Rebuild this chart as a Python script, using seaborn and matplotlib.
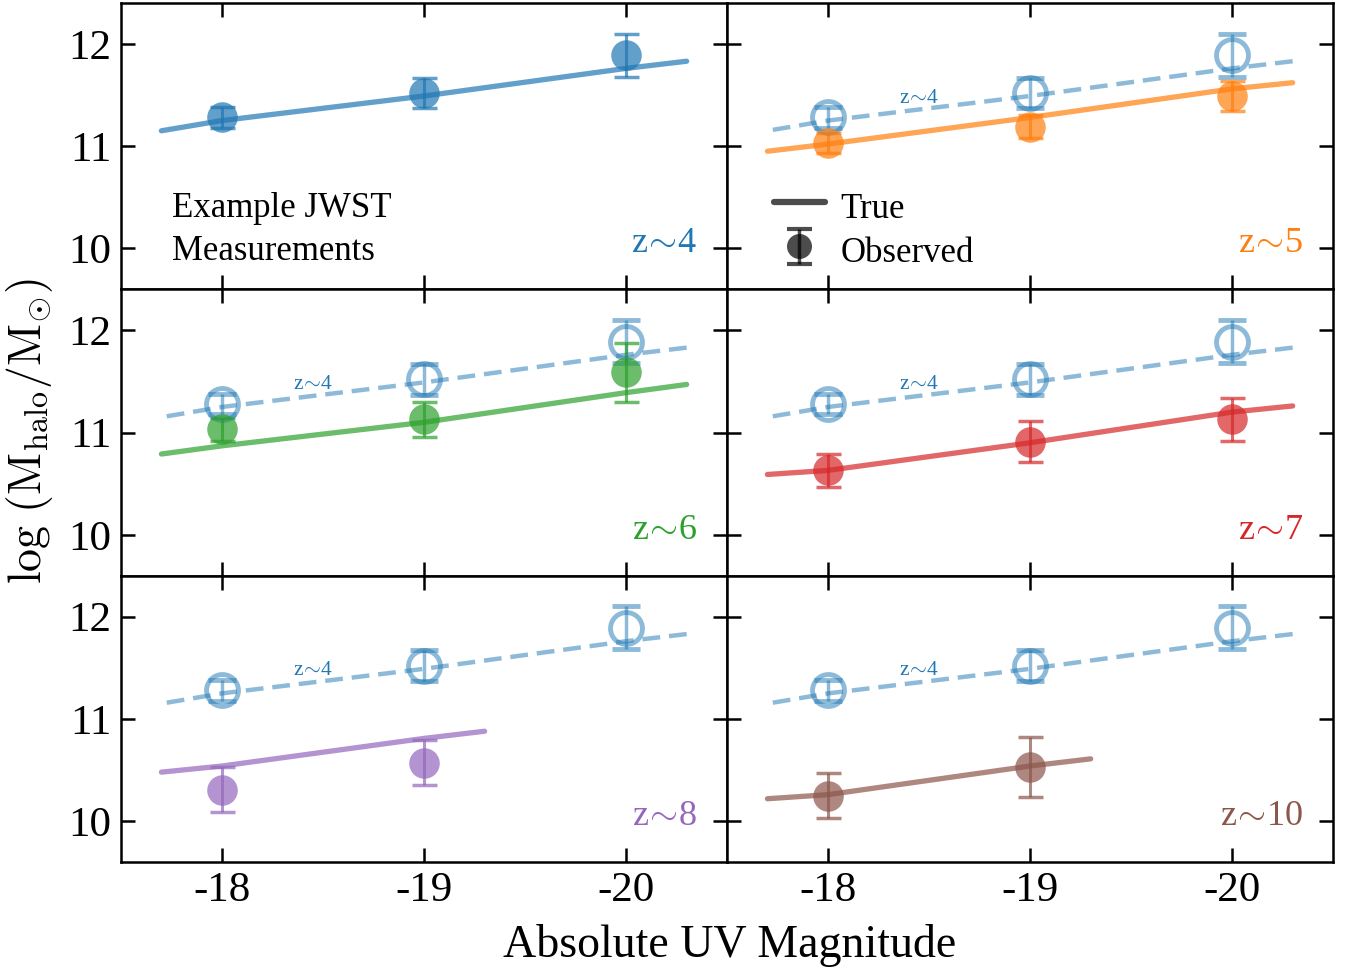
import numpy as np
import pandas as pd
import matplotlib.pyplot as plt
from matplotlib.lines import Line2D
import seaborn as sns

sns.set_style("ticks", {"axes.edgecolor": "black", "xtick.color": "black",
                        "ytick.color": "black", "text.color": "black"})
plt.rcParams["font.family"] = ["Liberation Serif", "DejaVu Serif"]
plt.rcParams["mathtext.fontset"] = "cm"
plt.rcParams["axes.unicode_minus"] = False

# magnitudes where the mock measurements sit
mag_obs = [-18, -19, -20]

# "true" relations
mag_true_long = [-17.7, -18.0, -19.0, -20.0, -20.3]
mag_true_short = [-17.7, -18.0, -19.0, -19.3]
true_z4 = [11.15, 11.25, 11.49, 11.76, 11.83]
true_z5 = [10.95, 11.02, 11.28, 11.56, 11.62]
true_z6 = [10.79, 10.87, 11.10, 11.39, 11.47]
true_z7 = [10.59, 10.63, 10.90, 11.20, 11.26]
true_z8 = [10.48, 10.54, 10.81, 10.88]
true_z10 = [10.22, 10.26, 10.54, 10.61]

# observed points and their errors
obs_z4 = [11.28, 11.52, 11.89]
err_z4 = [0.10, 0.15, 0.21]
obs_z5 = [11.03, 11.19, 11.49]
err_z5 = [0.10, 0.11, 0.15]
obs_z6 = [11.03, 11.13, 11.59]
err_z6 = [0.11, 0.17, 0.29]
obs_z7 = [10.63, 10.91, 11.13]
err_z7 = [0.16, 0.20, 0.21]
obs_z8 = [10.31, 10.57]
err_z8 = [0.22, 0.22]
obs_z10 = [10.25, 10.53]
err_z10 = [0.22, 0.29]

panels = [
    ("4", mag_true_long, true_z4, obs_z4, err_z4),
    ("5", mag_true_long, true_z5, obs_z5, err_z5),
    ("6", mag_true_long, true_z6, obs_z6, err_z6),
    ("7", mag_true_long, true_z7, obs_z7, err_z7),
    ("8", mag_true_short, true_z8, obs_z8, err_z8),
    ("10", mag_true_short, true_z10, obs_z10, err_z10),
]
colors = sns.color_palette("tab10")
SIM = r"$\!\sim\!$"

fig, axes = plt.subplots(3, 2, figsize=(13.52, 9.72), dpi=100, sharex=True, sharey=True)
fig.subplots_adjust(left=0.0895, right=0.986, top=0.997, bottom=0.113, hspace=0, wspace=0)

ref_line = pd.DataFrame({"mag": mag_true_long, "logM": true_z4})

for i, (ax, (z, mx, my, oy, oe)) in enumerate(zip(axes.flat, panels)):
    col = colors[i]
    if i > 0:
        # z~4 reference shown dashed with open symbols
        sns.lineplot(data=ref_line, x="mag", y="logM", ax=ax, color=colors[0],
                     lw=3.2, alpha=0.5, linestyle=(0, (4, 2)))
        ax.errorbar(mag_obs, obs_z4, yerr=err_z4, fmt="o", color=colors[0],
                    mfc="none", mew=3.5, markersize=23, alpha=0.5,
                    elinewidth=2.5, capsize=10, capthick=3.5)
        ax.text(-18.45, 11.47, "z" + SIM + "4", color=colors[0], fontsize=15.5,
                ha="center", va="center")
    df = pd.DataFrame({"mag": mx, "logM": my})
    sns.lineplot(data=df, x="mag", y="logM", ax=ax, color=col, lw=3.8, alpha=0.7)
    ax.errorbar(mag_obs[:len(oy)], oy, yerr=oe, fmt="o", color=col,
                mec="none", alpha=0.7, markersize=22,
                elinewidth=2.2, capsize=9, capthick=2.5)
    ax.text(0.95, 0.13, "z" + SIM + z, color=col, fontsize=26,
            ha="right", va="baseline", transform=ax.transAxes)

    ax.set_xlim(-17.5, -20.5)
    ax.set_ylim(9.6, 12.4)
    ax.set_xticks([-18, -19, -20])
    ax.set_yticks([10, 11, 12])
    ax.set_xlabel("")
    ax.set_ylabel("")
    ax.tick_params(direction="in", top=True, right=True, length=10, width=1.8,
                   labelsize=31, pad=7)
    for s in ax.spines.values():
        s.set_linewidth(1.8)

axes[0, 0].text(0.084, 0.251, "Example JWST", fontsize=25, transform=axes[0, 0].transAxes)
axes[0, 0].text(0.084, 0.101, "Measurements", fontsize=25, transform=axes[0, 0].transAxes)

# legend in the z~5 panel
ax = axes[0, 1]
h_true = Line2D([], [], color="k", lw=4.5, alpha=0.7)
h_obs = ax.errorbar([np.nan], [np.nan], yerr=[0.1], fmt="o", color="k", mec="none",
                    alpha=0.7, elinewidth=2.5, capsize=9, capthick=3, markersize=18)
ax.legend([h_true, h_obs], ["True", "Observed"], loc="lower left", frameon=False,
          fontsize=25, handlelength=1.45, handleheight=1.4, handletextpad=0.45,
          labelspacing=0.12, borderaxespad=0.0, bbox_to_anchor=(0.055, 0.017))

fig.text(0.54, 0.0155, "Absolute UV Magnitude", fontsize=33, ha="center", va="baseline")
fig.text(0.022, 0.556, r"${\rm log}\ ({\rm M_{halo}/M_{\odot}})$", fontsize=33,
         rotation=90, ha="center", va="center")

fig.savefig("out.png", dpi=100)
